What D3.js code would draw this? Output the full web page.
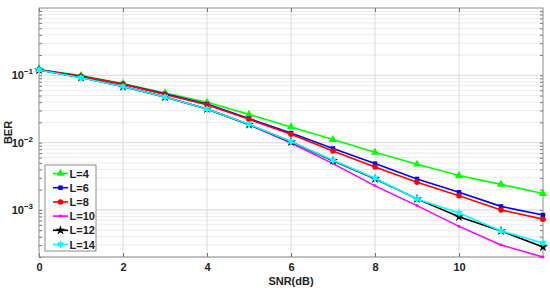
<!DOCTYPE html>
<html>
<head>
<meta charset="utf-8">
<script src="https://cdn.jsdelivr.net/npm/d3@7"></script>
<style>
  body { margin: 0; background: #fff; }
  text { font-family: "Liberation Sans", Arial, sans-serif; font-weight: bold; }
</style>
</head>
<body>
<div id="chart"></div>
<script>
"use strict";

// SNR points (dB)
var snr = [0, 1, 2, 3, 4, 5, 6, 7, 8, 9, 10, 11, 12];

// BER curves
var berL4  = [0.122, 0.099, 0.0753, 0.0547, 0.0397, 0.0263, 0.0171, 0.0111, 0.00718, 0.00477, 0.00324, 0.0024, 0.00175];
var berL6  = [0.121, 0.097, 0.074, 0.053, 0.0375, 0.0228, 0.0139, 0.0082, 0.00488, 0.00289, 0.00183, 0.00113, 0.00084];
var berL8  = [0.121, 0.097, 0.074, 0.052, 0.0365, 0.0222, 0.0133, 0.0075, 0.00435, 0.00257, 0.00163, 0.00100, 0.00073];
var berL10 = [0.120, 0.093, 0.068, 0.0475, 0.0315, 0.0185, 0.0099, 0.00488, 0.00228, 0.00116, 0.00057, 0.000302, 0.0002];
var berL12 = [0.120, 0.093, 0.068, 0.0477, 0.0317, 0.0186, 0.0103, 0.0054, 0.0029, 0.00146, 0.00079, 0.000488, 0.000282];
var berL14 = [0.120, 0.092, 0.068, 0.0477, 0.0317, 0.0187, 0.01035, 0.00546, 0.00295, 0.00146, 0.00090, 0.000488, 0.000324];

var seriesNames = ["L=4", "L=6", "L=8", "L=10", "L=12", "L=14"];
var seriesData = [berL4, berL6, berL8, berL10, berL12, berL14];
var seriesColors = ["#00ff00", "#0000ff", "#ff0000", "#ff00ff", "#000000", "#00ffff"];

var xTicks = [0, 2, 4, 6, 8, 10];
var yDecades = [-3, -2, -1];

var width = 550, height = 288;
var margin = { top: 8, right: 7, bottom: 31, left: 39 };

// six-point star for the cyan curve
var hexagram = {
  draw: function(ctx, size) {
    var r = Math.sqrt(size / 1.6), ri = r * 0.55;
    for (var i = 0; i < 12; i++) {
      var a = -Math.PI / 2 + i * Math.PI / 6;
      var rr = i % 2 ? ri : r;
      if (i === 0) ctx.moveTo(rr * Math.cos(a), rr * Math.sin(a));
      else ctx.lineTo(rr * Math.cos(a), rr * Math.sin(a));
    }
    ctx.closePath();
  }
};

var markers = [
  { type: d3.symbolTriangle, size: 28 },
  { type: d3.symbolSquare, size: 20 },
  { type: d3.symbolCircle, size: 24 },
  { type: d3.symbolCircle, size: 7 },
  { type: d3.symbolStar, size: 30 },
  { type: hexagram, size: 28 }
];

var svg = d3.select("#chart").append("svg")
  .attr("width", width)
  .attr("height", height);

var x = d3.scaleLinear()
  .domain([0, 12])
  .range([margin.left, width - margin.right]);

var y = d3.scaleLog()
  .domain([2e-4, 1])
  .range([height - margin.bottom, margin.top]);

var plotL = margin.left, plotR = width - margin.right;
var plotT = margin.top, plotB = height - margin.bottom;

// grid
var minorVals = [];
[-4, -3, -2, -1].forEach(function(e) {
  for (var m = 1; m <= 9; m++) {
    var v = m * Math.pow(10, e);
    if (v >= 2e-4 && v <= 1) minorVals.push(v);
  }
});

var grid = svg.append("g");
grid.selectAll("line.minor")
  .data(minorVals)
  .enter().append("line")
  .attr("x1", plotL).attr("x2", plotR)
  .attr("y1", function(d) { return y(d); })
  .attr("y2", function(d) { return y(d); })
  .attr("stroke", "#ececec")
  .attr("stroke-width", 1);

grid.selectAll("line.vx")
  .data(xTicks.slice(1))
  .enter().append("line")
  .attr("y1", plotT).attr("y2", plotB)
  .attr("x1", function(d) { return x(d); })
  .attr("x2", function(d) { return x(d); })
  .attr("stroke", "#dcdcdc")
  .attr("stroke-width", 1);

grid.selectAll("line.hy")
  .data(yDecades)
  .enter().append("line")
  .attr("x1", plotL).attr("x2", plotR)
  .attr("y1", function(d) { return y(Math.pow(10, d)); })
  .attr("y2", function(d) { return y(Math.pow(10, d)); })
  .attr("stroke", "#dcdcdc")
  .attr("stroke-width", 1);

// axes
var xAxis = d3.axisBottom(x).tickValues(xTicks).tickSize(-4).tickPadding(6);
var gx = svg.append("g")
  .attr("transform", "translate(0," + plotB + ")")
  .call(xAxis);
gx.select(".domain").remove();

svg.append("g")
  .attr("transform", "translate(0," + plotT + ")")
  .call(d3.axisTop(x).tickValues(xTicks).tickSize(-4).tickFormat(""))
  .select(".domain").remove();

var yAxis = d3.axisLeft(y).tickValues(minorVals).tickSize(-3).tickFormat("");
svg.append("g")
  .attr("transform", "translate(" + plotL + ",0)")
  .call(yAxis)
  .select(".domain").remove();
svg.append("g")
  .attr("transform", "translate(" + plotR + ",0)")
  .call(d3.axisRight(y).tickValues(minorVals).tickSize(-3).tickFormat(""))
  .select(".domain").remove();

svg.selectAll(".tick line").attr("stroke", "#777");
gx.selectAll(".tick text")
  .attr("font-size", 11)
  .attr("font-family", "Liberation Sans, Arial, sans-serif")
  .attr("font-weight", "bold")
  .attr("fill", "#222");

// y tick labels 10^k
var ylab = svg.append("g");
yDecades.forEach(function(e) {
  var t = ylab.append("text")
    .attr("x", plotL - 6)
    .attr("y", y(Math.pow(10, e)) + 4)
    .attr("text-anchor", "end")
    .attr("font-size", 11)
    .attr("fill", "#222");
  t.append("tspan").text("10");
  t.append("tspan")
    .attr("dy", -5)
    .attr("font-size", 8)
    .text("\u2212" + (-e));
});

// box
svg.append("rect")
  .attr("x", plotL).attr("y", plotT)
  .attr("width", plotR - plotL).attr("height", plotB - plotT)
  .attr("fill", "none")
  .attr("stroke", "#8c8c8c")
  .attr("stroke-width", 1);

// curves
var line = d3.line()
  .x(function(d, i) { return x(snr[i]); })
  .y(function(d) { return y(d); });

var curves = svg.append("g");
seriesData.forEach(function(vals, k) {
  var g = curves.append("g");
  g.append("path")
    .datum(vals)
    .attr("d", line)
    .attr("fill", "none")
    .attr("stroke", seriesColors[k])
    .attr("stroke-width", 1.6);
  g.selectAll("path.mk")
    .data(vals)
    .enter().append("path")
    .attr("class", "mk")
    .attr("transform", function(d, i) {
      return "translate(" + x(snr[i]) + "," + y(d) + ")";
    })
    .attr("d", d3.symbol().type(markers[k].type).size(markers[k].size))
    .attr("fill", seriesColors[k]);
});

// legend
var leg = svg.append("g").attr("transform", "translate(45,165)");
leg.append("rect")
  .attr("width", 51).attr("height", 86)
  .attr("fill", "#fff")
  .attr("stroke", "#8c8c8c")
  .attr("stroke-width", 1);

seriesNames.forEach(function(name, k) {
  var yy = 8.5 + k * 14.2;
  leg.append("line")
    .attr("x1", 8).attr("x2", 23)
    .attr("y1", yy).attr("y2", yy)
    .attr("stroke", seriesColors[k])
    .attr("stroke-width", 1.6);
  leg.append("path")
    .attr("transform", "translate(15.5," + yy + ")")
    .attr("d", d3.symbol().type(markers[k].type).size(markers[k].size))
    .attr("fill", seriesColors[k]);
  leg.append("text")
    .attr("x", 24.5).attr("y", yy + 4)
    .attr("font-size", 11)
    .attr("fill", "#222")
    .text(name);
});

// axis titles
svg.append("text")
  .attr("x", (plotL + plotR) / 2)
  .attr("y", 285)
  .attr("text-anchor", "middle")
  .attr("font-size", 11)
  .attr("fill", "#222")
  .text("SNR(dB)");

svg.append("text")
  .attr("transform", "translate(12," + ((plotT + plotB) / 2) + ") rotate(-90)")
  .attr("text-anchor", "middle")
  .attr("font-size", 11)
  .attr("fill", "#222")
  .text("BER");
</script>
</body>
</html>
